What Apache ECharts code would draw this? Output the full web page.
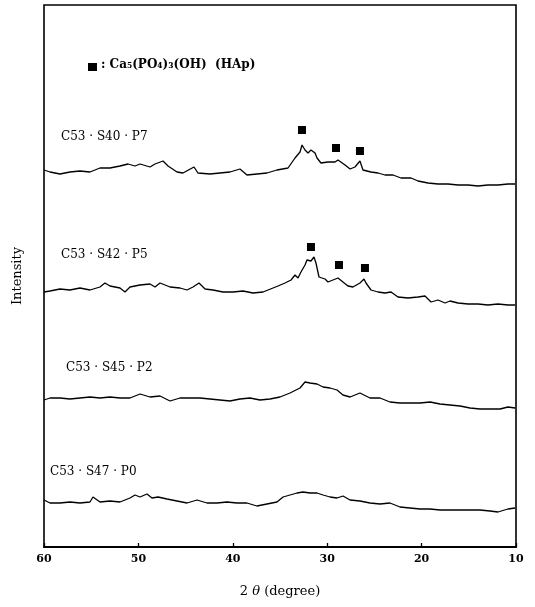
<!DOCTYPE html>
<html>
<head>
<meta charset="utf-8">
<script src="https://cdn.jsdelivr.net/npm/echarts@6/dist/echarts.min.js"></script>
<style>
  html, body { margin: 0; padding: 0; background: #fff; }
  #main { width: 535px; height: 607px; }
</style>
</head>
<body>
<div id="main"></div>
<script>
// XRD patterns, [2theta, intensity (arb., offset per sample)]
var p7 = [
  [60.0, 377], [59.36, 375], [58.31, 373], [57.25, 375], [56.19, 376], [55.13, 375],
  [54.07, 379], [53.01, 379], [51.95, 381], [51.10, 383], [50.36, 381], [49.83, 383],
  [48.77, 380], [48.24, 383], [47.39, 386], [46.86, 381], [45.91, 375], [45.28, 374],
  [44.11, 380], [43.69, 374], [42.42, 373], [41.36, 374], [40.30, 375], [39.24, 378],
  [38.50, 372], [37.44, 373], [36.38, 374], [35.32, 377], [34.15, 379], [33.41, 389],
  [32.88, 395], [32.67, 402], [32.35, 397], [32.03, 394], [31.72, 397], [31.29, 394],
  [31.08, 389], [30.66, 384], [29.92, 385], [29.17, 385], [28.86, 387], [28.11, 382],
  [27.58, 378], [27.06, 380], [26.53, 386], [26.21, 377], [25.36, 375], [24.62, 374],
  [23.88, 372], [23.03, 372], [22.18, 369], [21.12, 369], [20.38, 366], [19.32, 364],
  [18.26, 363], [17.20, 363], [16.14, 362], [15.08, 362], [14.02, 361], [12.97, 362],
  [11.91, 362], [10.85, 363], [10.1, 363]
];
var p5 = [
  [60.0, 255], [59.36, 256], [58.31, 258], [57.25, 257], [56.19, 259], [55.13, 257],
  [54.07, 260], [53.54, 264], [53.01, 261], [51.95, 259], [51.42, 255], [50.89, 260],
  [49.83, 262], [48.77, 263], [48.24, 260], [47.71, 264], [46.65, 260], [45.59, 259],
  [44.85, 257], [44.22, 260], [43.58, 264], [42.94, 258], [42.10, 257], [41.04, 255],
  [39.98, 255], [38.92, 256], [37.86, 254], [36.80, 255], [35.74, 259], [35.21, 261],
  [34.47, 264], [33.83, 267], [33.41, 272], [33.09, 269], [32.78, 275], [32.35, 282],
  [32.14, 287], [31.72, 286], [31.40, 290], [31.19, 284], [30.87, 270], [30.66, 272],
  [30.23, 268], [29.92, 265], [29.39, 267], [28.86, 269], [28.33, 265], [27.80, 261],
  [27.27, 260], [26.53, 264], [26.10, 268], [25.89, 264], [25.36, 257], [24.62, 255],
  [23.88, 254], [23.24, 255], [22.50, 250], [21.44, 249], [20.38, 250], [19.64, 251],
  [19.00, 245], [18.26, 247], [17.52, 244], [16.99, 246], [16.14, 244], [15.08, 243],
  [14.02, 243], [12.97, 242], [11.91, 243], [10.85, 242], [10.1, 242]
];
var p2 = [
  [60.0, 147], [59.36, 149], [58.31, 149], [57.25, 148], [56.19, 149], [55.13, 150],
  [54.07, 149], [53.01, 150], [51.95, 149], [50.89, 149], [49.83, 153], [48.77, 150],
  [47.71, 151], [46.65, 146], [45.59, 149], [44.53, 149], [43.47, 149], [42.42, 148],
  [41.36, 147], [40.30, 146], [39.24, 148], [38.18, 149], [37.12, 147], [36.06, 148],
  [35.00, 150], [33.94, 154], [32.88, 159], [32.35, 165], [31.82, 164], [31.08, 163],
  [30.44, 160], [29.70, 159], [28.96, 157], [28.33, 152], [27.58, 150], [26.53, 154],
  [25.47, 149], [24.41, 149], [23.35, 145], [22.29, 144], [21.23, 144], [20.17, 144],
  [19.11, 145], [18.05, 143], [16.99, 142], [15.93, 141], [14.87, 139], [13.81, 138],
  [12.75, 138], [11.69, 138], [10.85, 140], [10.1, 139]
];
var p0 = [
  [60.0, 47], [59.36, 44], [58.31, 44], [57.25, 45], [56.19, 44], [55.13, 45],
  [54.81, 50], [54.07, 45], [53.01, 46], [51.95, 45], [50.89, 49], [50.36, 52],
  [49.83, 50], [49.09, 53], [48.56, 49], [47.92, 50], [46.97, 48], [45.91, 46],
  [44.85, 44], [43.79, 47], [42.73, 44], [41.67, 44], [40.61, 45], [39.56, 44],
  [38.50, 44], [37.44, 41], [36.38, 43], [35.32, 45], [34.68, 50], [33.94, 52],
  [33.20, 54], [32.56, 55], [31.82, 54], [31.08, 54], [30.44, 52], [29.70, 50],
  [28.96, 49], [28.33, 51], [27.58, 47], [26.53, 46], [25.47, 44], [24.41, 43],
  [23.35, 44], [22.29, 40], [21.23, 39], [20.17, 38], [19.11, 38], [18.05, 37],
  [16.99, 37], [15.93, 37], [14.87, 37], [13.81, 37], [12.75, 36], [11.91, 35],
  [10.85, 38], [10.1, 39]
];
// HAp peak markers
var hapP7 = [[32.67, 417], [29.07, 399], [26.53, 396]];
var hapP5 = [[31.72, 300], [28.75, 282], [26.0, 279]];

var sampleNames = ['C53 · S40 · P7', 'C53 · S42 · P5', 'C53 · S45 · P2', 'C53 · S47 · P0'];
var xTicks = [60, 50, 40, 30, 20, 10];

var serif = '"DejaVu Serif", "Liberation Serif", serif';
var chart = echarts.init(document.getElementById('main'));

function trace(d) {
  return {
    type: 'line',
    data: d,
    symbol: 'none',
    smooth: false,
    lineStyle: { color: '#000', width: 1.3 },
    silent: true
  };
}

function marks(d) {
  return {
    type: 'scatter',
    data: d,
    symbol: 'rect',
    symbolSize: 8,
    itemStyle: { color: '#000', opacity: 1 },
    silent: true
  };
}

function label(txt, x, y) {
  return {
    type: 'text',
    left: x,
    top: y,
    style: { text: txt, font: '12px ' + serif, fill: '#000' }
  };
}

var option = {
  animation: false,
  backgroundColor: '#fff',
  grid: {
    left: 44, right: 19, top: 5, bottom: 60,
    show: true, borderColor: '#000', borderWidth: 1.6
  },
  xAxis: {
    type: 'value',
    min: 10, max: 60, interval: 10,
    inverse: true,
    name: '2 {i|θ} (degree)',
    nameLocation: 'middle',
    nameGap: 38,
    nameTextStyle: {
      fontFamily: serif, fontSize: 13, color: '#000',
      rich: { i: { fontFamily: serif, fontStyle: 'italic', fontSize: 13, color: '#000' } }
    },
    axisLine: { lineStyle: { color: '#000', width: 2.2 } },
    axisTick: { inside: true, length: 4, lineStyle: { color: '#000', width: 1.3 } },
    axisLabel: {
      margin: 7, fontFamily: serif, fontWeight: 'bold', fontSize: 11, color: '#000',
      formatter: function (v) { return xTicks.indexOf(v) >= 0 ? String(v) : ''; }
    },
    splitLine: { show: false }
  },
  yAxis: {
    type: 'value',
    min: 0, max: 542,
    name: 'Intensity',
    nameLocation: 'middle',
    nameGap: 20,
    nameTextStyle: { fontFamily: serif, fontSize: 13, color: '#000' },
    axisLine: { show: false },
    axisTick: { show: false },
    axisLabel: { show: false },
    splitLine: { show: false }
  },
  graphic: [
    { type: 'rect', left: 88, top: 63, shape: { width: 9, height: 8 }, style: { fill: '#000' } },
    {
      type: 'text', left: 101, top: 59,
      style: { text: ': Ca₅(PO₄)₃(OH)  (HAp)', font: 'bold 12px ' + serif, fill: '#000' }
    },
    label(sampleNames[0], 61, 131),
    label(sampleNames[1], 61, 249),
    label(sampleNames[2], 66, 362),
    label(sampleNames[3], 50, 466)
  ],
  series: [
    trace(p7), trace(p5), trace(p2), trace(p0),
    marks(hapP7), marks(hapP5)
  ]
};

chart.setOption(option);
</script>
</body>
</html>
